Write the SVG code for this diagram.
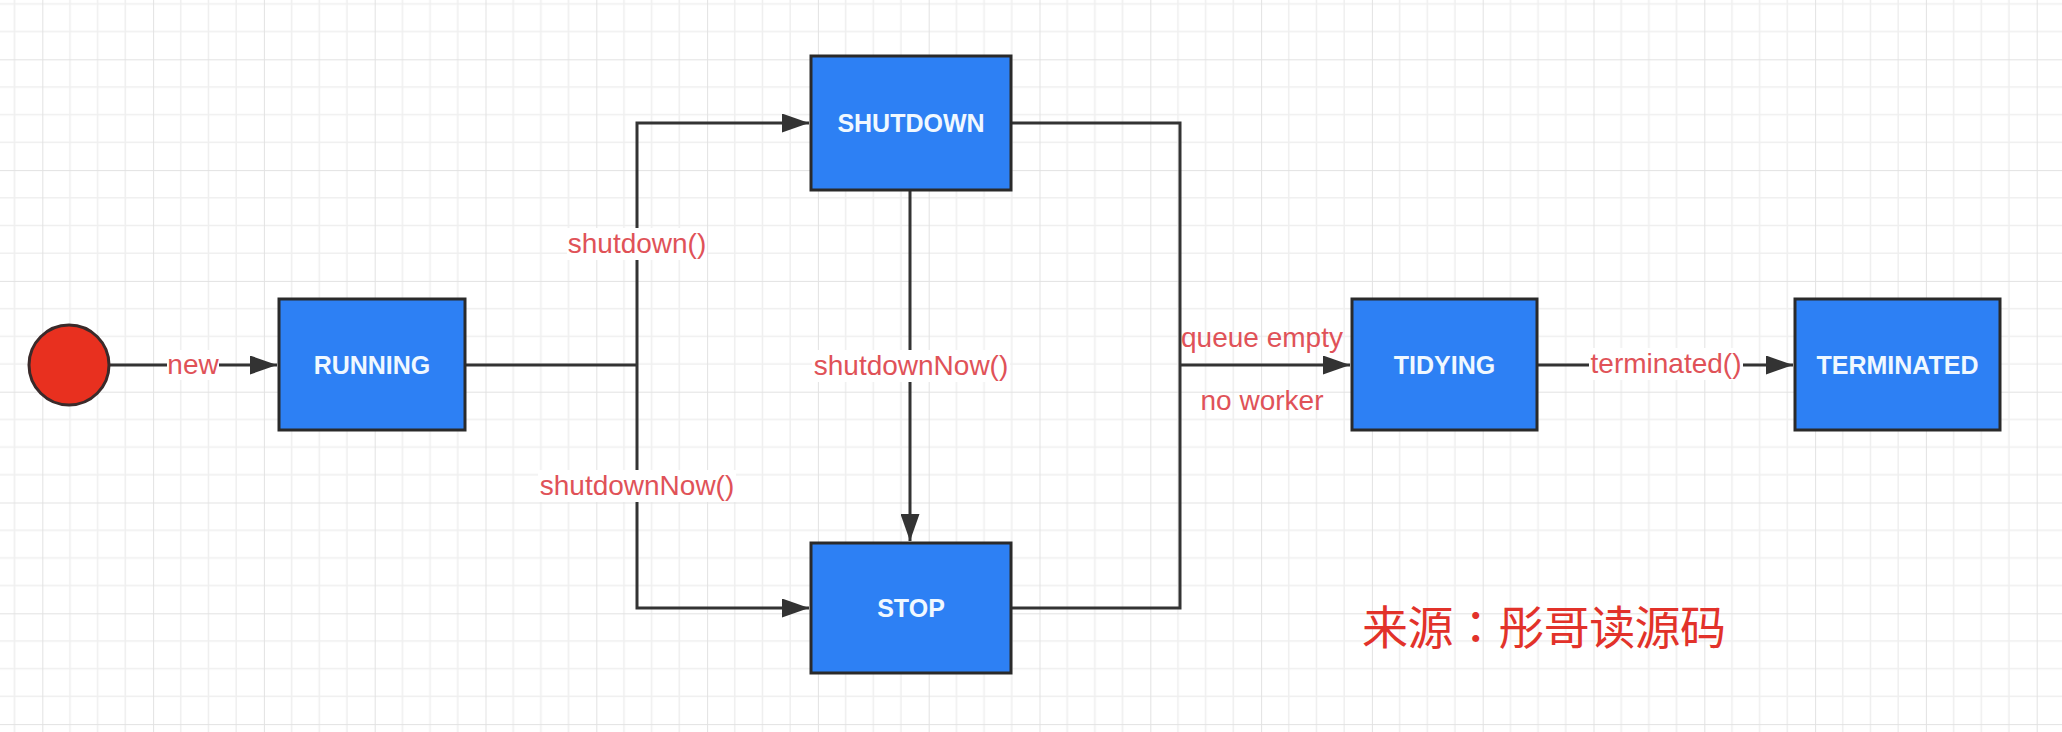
<svg xmlns="http://www.w3.org/2000/svg" width="2062" height="732" viewBox="0 0 2062 732">
<style>
.box{fill:#2d80f4;stroke:#2a2a2a;stroke-width:3}
.bl{font-family:"Liberation Sans",Arial,sans-serif;font-weight:bold;font-size:25px;fill:#f0f8ff;text-anchor:middle}
.edge{fill:none;stroke:#333;stroke-width:3}
.lbl{font-family:"Liberation Sans",Arial,sans-serif;font-size:28px;fill:#e05258;text-anchor:middle}
.bg{fill:#ffffff}
.minor{stroke:#efefef;stroke-width:1.5}
.major{stroke:#e2e2e2;stroke-width:2}
</style>
<defs>
<pattern id="grid" patternUnits="userSpaceOnUse" x="42.3" y="59.3" width="110.8" height="110.8">
<rect width="110.8" height="110.8" fill="#ffffff"/>
<path class="minor" d="M27.7,0V110.8M55.4,0V110.8M83.1,0V110.8M0,27.7H110.8M0,55.4H110.8M0,83.1H110.8"/>
<path class="major" d="M0,0V110.8M0,0H110.8"/>
</pattern>
<marker id="arr" viewBox="0 0 27 19" refX="27" refY="9.5" markerWidth="27" markerHeight="19" markerUnits="userSpaceOnUse" orient="auto">
<path d="M0,0L27,9.5L0,19Z" fill="#333"/>
</marker>
</defs>
<rect width="2062" height="732" fill="url(#grid)"/>
<g id="connectors">
<path class="edge" d="M109,365H277" marker-end="url(#arr)"/>
<path class="edge" d="M465,365H637"/>
<path class="edge" d="M637,365V123H809" marker-end="url(#arr)"/>
<path class="edge" d="M637,365V608H809" marker-end="url(#arr)"/>
<path class="edge" d="M910,190V541" marker-end="url(#arr)"/>
<path class="edge" d="M1011,123H1180V608H1011"/>
<path class="edge" d="M1180,365H1350" marker-end="url(#arr)"/>
<path class="edge" d="M1537,365H1793" marker-end="url(#arr)"/>
<rect class="bg" x="167" y="350" width="52" height="30"/>
<text class="lbl" x="193" y="374">new</text>
<rect class="bg" x="567" y="228" width="140" height="32"/>
<text class="lbl" x="637" y="253">shutdown()</text>
<rect class="bg" x="538" y="470" width="198" height="32"/>
<text class="lbl" x="637" y="495">shutdownNow()</text>
<rect class="bg" x="812" y="350" width="198" height="32"/>
<text class="lbl" x="911" y="375">shutdownNow()</text>
<text class="lbl" x="1262" y="347">queue empty</text>
<text class="lbl" x="1262" y="410">no worker</text>
<rect class="bg" x="1589" y="348" width="154" height="32"/>
<text class="lbl" x="1666" y="373">terminated()</text>
</g>
<g id="start">
<circle cx="69" cy="365" r="40" fill="#e8301f" stroke="#3a2a2a" stroke-width="3"/>
</g>
<g id="running">
<rect class="box" x="279" y="299" width="186" height="131"/>
<text class="bl" x="372" y="374">RUNNING</text>
</g>
<g id="shutdown">
<rect class="box" x="811" y="56" width="200" height="134"/>
<text class="bl" x="911" y="132">SHUTDOWN</text>
</g>
<g id="stop">
<rect class="box" x="811" y="543" width="200" height="130"/>
<text class="bl" x="911" y="617">STOP</text>
</g>
<g id="tidying">
<rect class="box" x="1352" y="299" width="185" height="131"/>
<text class="bl" x="1444.5" y="374">TIDYING</text>
</g>
<g id="terminated">
<rect class="box" x="1795" y="299" width="205" height="131"/>
<text class="bl" x="1897.5" y="374">TERMINATED</text>
</g>
<text x="1362" y="644" font-family="'Noto Sans CJK TC','Noto Sans CJK SC',sans-serif" font-size="46" textLength="364" lengthAdjust="spacing" fill="#e2322a">来源：彤哥读源码</text>
</svg>
